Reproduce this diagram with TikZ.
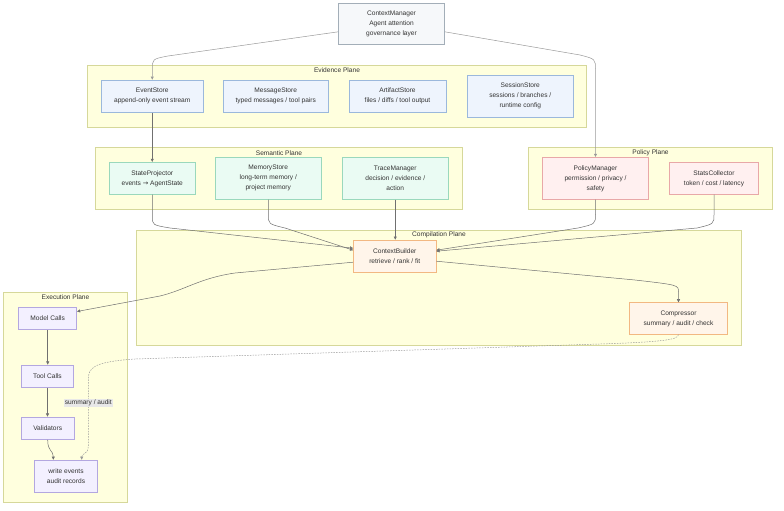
\documentclass[tikz,border=0pt]{standalone}
\usepackage{fontspec}
\setmainfont{Liberation Sans}
\newfontfamily\symf{DejaVu Sans}
\usetikzlibrary{arrows.meta,calc}
\definecolor{clfill}{HTML}{FFFFDE}
\definecolor{cldraw}{HTML}{D6D89A}
\definecolor{cmfill}{HTML}{F6F8FA}
\definecolor{cmdraw}{HTML}{A3AEB8}
\definecolor{evfill}{HTML}{EEF4FD}
\definecolor{evdraw}{HTML}{9BB8DC}
\definecolor{smfill}{HTML}{EAFBF3}
\definecolor{smdraw}{HTML}{9AD8BC}
\definecolor{pofill}{HTML}{FFF0F0}
\definecolor{podraw}{HTML}{E8A8A8}
\definecolor{cofill}{HTML}{FFF5EA}
\definecolor{codraw}{HTML}{F2B882}
\definecolor{exfill}{HTML}{F3F0FF}
\definecolor{exdraw}{HTML}{B3A7E0}
\definecolor{txt}{HTML}{333333}
\definecolor{edge}{HTML}{707070}
\definecolor{edgelight}{HTML}{999999}
\begin{document}
\begin{tikzpicture}[x=1pt,y=-1pt,
  every node/.style={font=\fontsize{6.6}{10}\selectfont, text=txt},
  box/.style={draw, line width=0.6pt, align=center, inner sep=0pt},
  cmbox/.style={box, fill=cmfill, draw=cmdraw},
  evbox/.style={box, fill=evfill, draw=evdraw},
  smbox/.style={box, fill=smfill, draw=smdraw},
  pobox/.style={box, fill=pofill, draw=podraw},
  cobox/.style={box, fill=cofill, draw=codraw},
  exbox/.style={box, fill=exfill, draw=exdraw},
  plane/.style={fill=clfill, draw=cldraw, line width=0.6pt},
  ptitle/.style={inner sep=0pt},
  conn/.style={draw=edge, line width=0.5pt, -{Triangle[length=3.2pt,width=3pt]}},
  lightconn/.style={conn, draw=edgelight},
  dotconn/.style={conn, draw=edgelight, dash pattern=on 1.5pt off 1.2pt},
  elabel/.style={fill=black!9, inner sep=1pt}
]
\useasboundingbox (0,0) rectangle (784,511);

% planes
\draw[plane] (87.5,65) rectangle (586.5,127.5);
\node[ptitle] (tev) at (337,70.5) {Evidence Plane};
\draw[plane] (95.5,147) rectangle (462.5,209.3);
\node[ptitle] (tsm) at (279,152.7) {Semantic Plane};
\draw[plane] (528.5,147) rectangle (772.5,209.3);
\node[ptitle] (tpo) at (650.5,152.7) {Policy Plane};
\draw[plane] (136.5,230) rectangle (741.5,345);
\node[ptitle] (tco) at (439,234.7) {Compilation Plane};
\draw[plane] (3.3,292.3) rectangle (127.7,502.3);
\node[ptitle] (tex) at (65.5,297.3) {Execution Plane};

% nodes
\node[cmbox, minimum width=106pt, minimum height=41pt] (cm) at (391.5,23.8) {ContextManager\\Agent attention\\governance layer};

\node[evbox, minimum width=101.5pt, minimum height=32.5pt] (es) at (152.25,96.25) {EventStore\\append-only event stream};
\node[evbox, minimum width=105.5pt, minimum height=32.5pt] (ms) at (275.75,96.25) {MessageStore\\typed messages / tool pairs};
\node[evbox, minimum width=97pt, minimum height=32.5pt] (as) at (397.5,96.25) {ArtifactStore\\files / diffs / tool output};
\node[evbox, minimum width=106.5pt, minimum height=42.5pt] (ss) at (520.25,96.25) {SessionStore\\sessions / branches /\\runtime config};

\node[smbox, minimum width=85.5pt, minimum height=32pt] (sp) at (152.25,178.3) {StateProjector\\events {\symf→} AgentState};
\node[smbox, minimum width=105.5pt, minimum height=42pt] (mem) at (268.25,178.3) {MemoryStore\\long-term memory /\\project memory};
\node[smbox, minimum width=106.5pt, minimum height=42pt] (tm) at (395.25,178.3) {TraceManager\\decision / evidence /\\action};

\node[pobox, minimum width=106pt, minimum height=42pt] (pm) at (595.5,178.3) {PolicyManager\\permission / privacy /\\safety};
\node[pobox, minimum width=89pt, minimum height=32pt] (sc) at (714,178.3) {StatsCollector\\token / cost / latency};

\node[cobox, minimum width=82.5pt, minimum height=32.3pt] (cb) at (394.75,256.2) {ContextBuilder\\retrieve / rank / fit};
\node[cobox, minimum width=98.4pt, minimum height=31.6pt] (cp) at (678.5,318.5) {Compressor\\summary / audit / check};

\node[exbox, minimum width=58pt, minimum height=22.4pt] (mc) at (47.7,318.5) {Model Calls};
\node[exbox, minimum width=52.4pt, minimum height=22.7pt] (tc) at (47.5,376.3) {Tool Calls};
\node[exbox, minimum width=53.3pt, minimum height=22.7pt] (va) at (47.7,428.3) {Validators};
\node[exbox, minimum width=63.4pt, minimum height=32pt] (we) at (66,476) {write events\\audit records};

% connectors
\draw[lightconn] ([yshift=-8pt]cm.west) -- (168,56) .. controls (152.25,59) .. (152.25,70) -- (es.north);
\draw[lightconn] ([yshift=-8pt]cm.east) -- (580,55) .. controls (595.5,59) .. (595.5,70) -- (pm.north);
\draw[conn] (es.south) -- (sp.north);
\draw[conn] (sp.south) -- (152.25,216) .. controls (152.25,225) .. (170,228) -- ([yshift=8pt]cb.west);
\draw[conn] (mem.south) -- (268.25,214) .. controls (268.25,224) .. (285,228) -- ([yshift=6pt]cb.west);
\draw[conn] (tm.south) -- (tm.south |- cb.north);
\draw[conn] (pm.south) -- (595.5,214) .. controls (595.5,224) .. (578,228) -- ([yshift=6pt]cb.east);
\draw[conn] (sc.south) -- (714,214) .. controls (714,224) .. (697,228) -- ([yshift=5pt]cb.east);
\draw[conn] ([yshift=-6pt]cb.west) -- (235,273) .. controls (200,278) and (185,290) .. (160,296) -- ([yshift=7pt]mc.east);
\draw[conn] ([yshift=-5pt]cb.east) -- (635,280) .. controls (678.5,285) .. (678.5,292) -- (cp.north);
\draw[conn] (mc.south) -- (mc.south |- tc.north);
\draw[conn] (tc.south) -- (tc.south |- va.north);
\draw[conn] (va.south) .. controls (47.7,452) and (53.3,450) .. ([xshift=-12.7pt]we.north);
\draw[dotconn] (cp.south) .. controls (678.5,340) and (660,342) .. (600,344) -- (135,359) .. controls (92,362) and (88.3,368) .. (88.3,380) -- (88.3,446) .. controls (88.3,455) and (81.7,453) .. ([xshift=15.7pt]we.north);
\node[elabel] (lab) at (88.3,402.7) {summary / audit};
\end{tikzpicture}
\end{document}
